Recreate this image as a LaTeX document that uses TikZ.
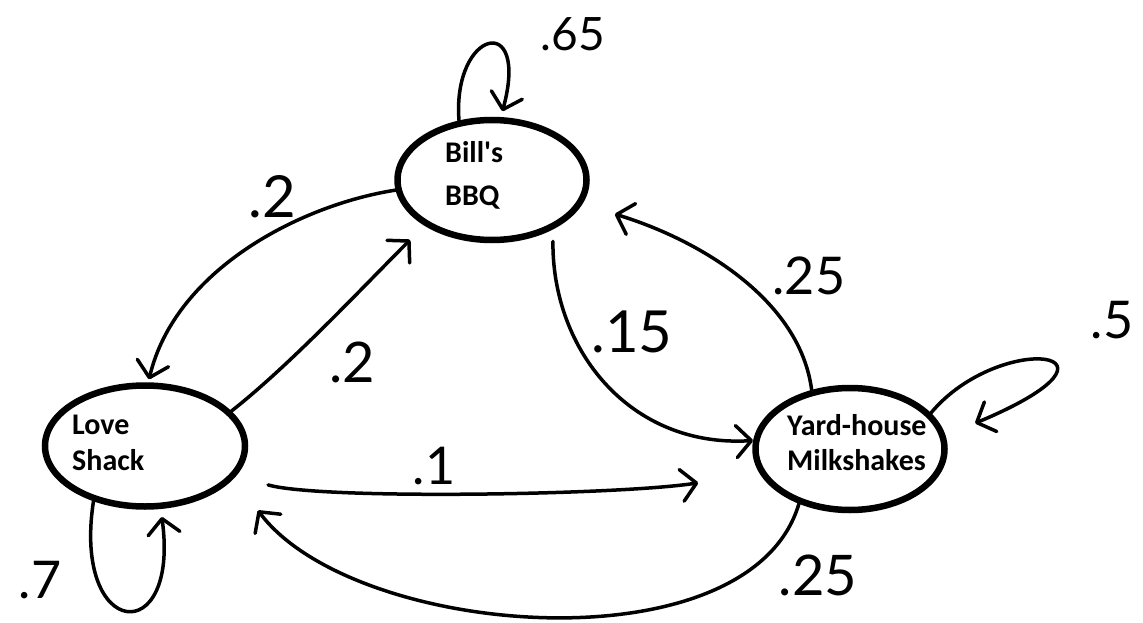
\documentclass[tikz,border=0pt]{standalone}
\usepackage{fontspec}
\newfontfamily\statefont{Carlito}[Ligatures=TeXOff]
\newfontfamily\handfont{Lato}
\usetikzlibrary{shapes.geometric,arrows.meta}
\begin{document}
\begin{tikzpicture}[x=1pt,y=-1pt,
  state/.style={draw, ellipse, line width=6.5pt, inner sep=0pt},
  statetext/.style={anchor=base west, inner sep=0pt, font=\statefont\bfseries\fontsize{30}{36}\selectfont, text=black},
  prob/.style={inner sep=0pt, font=\handfont\fontsize{52}{52}\selectfont},
  edge/.style={line width=3.5pt, line cap=round, line join=round, -{Straight Barb[length=15pt,width=32pt,round]}},
]
\fill[white] (0,0) rectangle (1143,623);
\useasboundingbox (0,0) rectangle (1143,623);

% states
\node[state, minimum width=189pt, minimum height=120pt] (bill) at (492,180) {};
\node[state, minimum width=200pt, minimum height=121pt] (love) at (145,446) {};
\node[state, minimum width=189pt, minimum height=122pt] (yard) at (850,449) {};

\node[statetext] (billA) at (445,163) {Bill's};
\node[statetext] (billB) at (445,205) {BBQ};
\node[statetext] (loveA) at (72,434) {Love};
\node[statetext] (loveB) at (72,470) {Shack};
\node[statetext] (yardA) at (787,435) {Yard-house};
\node[statetext] (yardB) at (787,470) {Milkshakes};

% connectors
\draw[edge, shorten >=6pt] (bill.119) .. controls (452,30) and (530,10) .. (bill.82);
\draw[edge, shorten >=3pt] (bill.186) .. controls (300,205) and (175,270) .. (love.87);
\draw[edge, shorten >=20pt] (love.22) .. controls (290,365) and (360,290) .. (bill.214);
\draw[edge, shorten <=12pt] (bill.-39) .. controls (552,350) and (630,448) .. (yard.175);
\draw[edge, shorten >=34pt] (yard.123) .. controls (800,300) and (700,240) .. (bill.-15);
\draw[edge, shorten >=32pt] (yard.24) .. controls (1000,330) and (1150,350) .. (yard.8);
\draw[edge, shorten <=33pt, shorten >=62pt] (love.-18) .. controls (320,500) and (620,495) .. (yard.195);
\draw[edge, shorten >=40pt] (yard.-133) .. controls (750,670) and (353.7,638.3) .. (love.-20);
\draw[edge, shorten >=8pt] (love.-133) .. controls (72,640) and (180,650) .. (love.-76);

% probabilities
\node[prob, font=\handfont\fontsize{46}{46}\selectfont] (p65) at (573,34) {.65};
\node[prob, font=\handfont\fontsize{58}{58}\selectfont] (p2a) at (272,197) {.2};
\node[prob, font=\handfont\fontsize{56}{56}\selectfont] (p2b) at (352,362) {.2};
\node[prob, font=\handfont\fontsize{58}{58}\selectfont] (p15) at (632,332) {.15};
\node[prob] (p25a) at (809,276) {.25};
\node[prob] (p5) at (1112,320) {.5};
\node[prob] (p1) at (434,466) {.1};
\node[prob] (p7) at (40,580) {.7};
\node[prob, font=\handfont\fontsize{56}{56}\selectfont] (p25b) at (818,575) {.25};
\end{tikzpicture}
\end{document}
